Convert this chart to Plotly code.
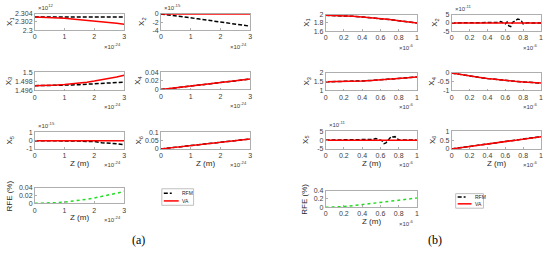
import plotly.graph_objects as go

W, H = 548, 254

# ---------------- data (panel a: z in units of 1e-24 m) ----------------
z_a = [0, 0.25, 0.5, 0.75, 1.0, 1.25, 1.5, 1.75, 2.0, 2.25, 2.5, 2.75, 3.0]
a_x1_rfm = [2.30323, 2.30323, 2.30323, 2.30323, 2.30323, 2.30323, 2.30323, 2.30323, 2.30323, 2.30323, 2.30323, 2.30323, 2.30323]
a_x1_va = [2.30323, 2.30319, 2.30311, 2.30301, 2.30289, 2.30275, 2.30260, 2.30244, 2.30227, 2.30208, 2.30188, 2.30168, 2.30146]
a_x2_rfm = [0, -0.2, -0.45, -0.7, -0.95, -1.2, -1.45, -1.7, -1.95, -2.2, -2.45, -2.7, -3.0]
a_x2_va = [0, 0, 0, 0, 0, 0, 0, 0, 0, 0, 0, 0, 0]
a_x3_rfm = [1.49705, 1.49705, 1.49707, 1.49710, 1.49715, 1.49721, 1.49728, 1.49736, 1.49745, 1.49754, 1.49763, 1.49772, 1.49782]
a_x3_va = [1.49705, 1.49707, 1.49711, 1.49719, 1.49730, 1.49744, 1.49761, 1.49782, 1.49805, 1.49832, 1.49861, 1.49894, 1.49930]
a_x4_rfm = [0, 0.002, 0.004, 0.006, 0.008, 0.010, 0.012, 0.014, 0.016, 0.018, 0.020, 0.022, 0.024]
a_x4_va = [0, 0.002, 0.004, 0.006, 0.008, 0.010, 0.012, 0.014, 0.016, 0.018, 0.020, 0.022, 0.024]
a_x5_rfm = [0, 0, 0, 0.02, 0, -0.03, -0.05, -0.12, -0.1, -0.25, -0.3, -0.38, -0.5]
a_x5_va = [0, 0, 0, 0, 0, 0, 0, 0, 0, 0, 0, 0, 0]
a_x6_rfm = [0, 0.005, 0.010, 0.015, 0.020, 0.025, 0.030, 0.035, 0.040, 0.045, 0.050, 0.055, 0.060]
a_x6_va = [0, 0.005, 0.010, 0.015, 0.020, 0.025, 0.030, 0.035, 0.040, 0.045, 0.050, 0.055, 0.060]
a_rfe = [0, 0.0002, 0.0009, 0.0019, 0.0034, 0.0054, 0.0078, 0.0105, 0.0138, 0.0174, 0.0215, 0.0260, 0.031]

# ---------------- data (panel b: z in units of 1e-6 m) ----------------
z_b = [0, 0.1, 0.2, 0.3, 0.4, 0.5, 0.6, 0.7, 0.8, 0.9, 1.0]
z_b_n = [0, 0.48, 0.52, 0.55, 0.57, 0.6, 0.62, 0.64, 0.66, 0.68, 0.7, 0.72, 0.74, 0.76, 0.78, 0.8, 0.82, 0.85, 0.9, 1.0]
b_x1_rfm = [1.985, 1.981, 1.973, 1.961, 1.946, 1.928, 1.906, 1.881, 1.855, 1.828, 1.80]
b_x1_va = [1.985, 1.981, 1.973, 1.961, 1.946, 1.928, 1.906, 1.881, 1.855, 1.828, 1.80]
b_x2_rfm = [0, 0, 0.3, 0.8, 0.2, -0.5, 0.6, -1.8, -2.2, 0.3, 0.9, 1.6, 2.4, 2.0, 1.2, -0.6, -0.2, 0.2, 0, 0]
b_x2_va = [0, 0, 0, 0, 0, 0, 0, 0, 0, 0, 0]
b_x3_rfm = [1.5, 1.5055, 1.516, 1.5315, 1.552, 1.5775, 1.608, 1.6435, 1.684, 1.7295, 1.78]
b_x3_va = [1.5, 1.5055, 1.516, 1.5315, 1.552, 1.5775, 1.608, 1.6435, 1.684, 1.7295, 1.78]
b_x4_rfm = [0, -0.09, -0.17, -0.245, -0.31, -0.37, -0.42, -0.465, -0.505, -0.54, -0.57]
b_x4_va = [0, -0.09, -0.17, -0.245, -0.31, -0.37, -0.42, -0.465, -0.505, -0.54, -0.57]
b_x5_rfm = [0, 0, 0.4, 0.9, 0.5, 0.3, -0.4, -2.0, -1.6, -0.3, 1.0, 2.2, 1.8, 2.0, 0.8, 0.4, -0.1, 0.1, 0, 0]
b_x5_va = [0, 0, 0, 0, 0, 0, 0, 0, 0, 0, 0]
b_x6_rfm = [0, 0.07, 0.14, 0.21, 0.28, 0.35, 0.42, 0.49, 0.56, 0.63, 0.70]
b_x6_va = [0, 0.07, 0.14, 0.21, 0.28, 0.35, 0.42, 0.49, 0.56, 0.63, 0.70]
b_rfe = [0, 0.003, 0.015, 0.038, 0.068, 0.094, 0.12, 0.145, 0.17, 0.198, 0.226]

xt_a = [0, 1, 2, 3]
xt_b = [0, 0.2, 0.4, 0.6, 0.8, 1]

# ---------------- styling ----------------
RED = "#ff0000"
BLACK = "#000000"
GREEN = "#22dd22"
FONT = "Liberation Sans"
TICKC = "#404040"
BOXC = "#9a9a9a"
DASH = "4px,2px"

subplots = [
    dict(px=(33, 123, 10, 27), z=z_a, zr=z_a, rfm=a_x1_rfm, va=a_x1_va, yr=[2.3, 2.304], yt=[2.3, 2.302, 2.304], yl="X<sub>1</sub>", ylx=8, ye="×10<sup>12</sup>", xt=xt_a, xr=[0, 3], xe="×10<sup>-24</sup>", zl=False),
    dict(px=(160, 250, 10, 27), z=z_a, zr=z_a, rfm=a_x2_rfm, va=a_x2_va, yr=[-4, 0.06], yt=[-4, -2, 0], yl="X<sub>2</sub>", ylx=141, ye="×10<sup>-15</sup>", xt=xt_a, xr=[0, 3], xe="×10<sup>-24</sup>", zl=False),
    dict(px=(33, 123, 70, 89), z=z_a, zr=z_a, rfm=a_x3_rfm, va=a_x3_va, yr=[1.496, 1.5], yt=[1.496, 1.498, 1.5], yl="X<sub>3</sub>", ylx=7, ye=None, xt=xt_a, xr=[0, 3], xe="×10<sup>-24</sup>", zl=False),
    dict(px=(160, 250, 70, 88), z=z_a, zr=z_a, rfm=a_x4_rfm, va=a_x4_va, yr=[0, 0.04], yt=[0, 0.02, 0.04], yl="X<sub>4</sub>", ylx=137, ye=None, xt=xt_a, xr=[0, 3], xe="×10<sup>-24</sup>", zl=False),
    dict(px=(33, 123, 132, 149), z=z_a, zr=z_a, rfm=a_x5_rfm, va=a_x5_va, yr=[-1, 1], yt=[-1, 0, 1], yl="X<sub>5</sub>", ylx=8, ye="×10<sup>-15</sup>", xt=xt_a, xr=[0, 3], xe="×10<sup>-24</sup>", zl=True),
    dict(px=(160, 250, 132, 149), z=z_a, zr=z_a, rfm=a_x6_rfm, va=a_x6_va, yr=[0, 0.1], yt=[0, 0.05, 0.1], yl="X<sub>6</sub>", ylx=138, ye=None, xt=xt_a, xr=[0, 3], xe="×10<sup>-24</sup>", zl=True),
    dict(px=(33, 123, 189, 205), z=z_a, zr=None, rfm=None, va=None, rfe=a_rfe, yr=[0, 0.04], yt=[0, 0.02, 0.04], yl="RFE (%)", ylx=8, ye=None, xt=xt_a, xr=[0, 3], xe="×10<sup>-24</sup>", zl=True),

    dict(px=(326, 418, 11, 28), z=z_b, zr=z_b, rfm=b_x1_rfm, va=b_x1_va, yr=[1.6, 2], yt=[1.6, 1.8, 2], yl="X<sub>1</sub>", ylx=307, ye=None, xt=xt_b, xr=[0, 1], xe="×10<sup>-6</sup>", zl=False),
    dict(px=(453, 543, 11, 28), z=z_b, zr=z_b_n, rfm=b_x2_rfm, va=b_x2_va, yr=[-5, 5], yt=[-5, 0, 5], yl="X<sub>2</sub>", ylx=436, ye="×10<sup>-11</sup>", xt=xt_b, xr=[0, 1], xe="×10<sup>-6</sup>", zl=False),
    dict(px=(326, 418, 71, 89), z=z_b, zr=z_b, rfm=b_x3_rfm, va=b_x3_va, yr=[1, 2], yt=[1, 1.5, 2], yl="X<sub>3</sub>", ylx=307, ye=None, xt=xt_b, xr=[0, 1], xe="×10<sup>-6</sup>", zl=False),
    dict(px=(453, 543, 71, 89), z=z_b, zr=z_b, rfm=b_x4_rfm, va=b_x4_va, yr=[-1, 0], yt=[-1, -0.5, 0], yl="X<sub>4</sub>", ylx=433, ye=None, xt=xt_b, xr=[0, 1], xe="×10<sup>-6</sup>", zl=False),
    dict(px=(326, 418, 131, 149), z=z_b, zr=z_b_n, rfm=b_x5_rfm, va=b_x5_va, yr=[-5, 5], yt=[-5, 0, 5], yl="X<sub>5</sub>", ylx=306, ye="×10<sup>-11</sup>", xt=xt_b, xr=[0, 1], xe="×10<sup>-6</sup>", zl=True),
    dict(px=(453, 543, 131, 149), z=z_b, zr=z_b, rfm=b_x6_rfm, va=b_x6_va, yr=[0, 1], yt=[0, 0.5, 1], yl="X<sub>6</sub>", ylx=434, ye=None, xt=xt_b, xr=[0, 1], xe="×10<sup>-6</sup>", zl=True),
    dict(px=(326, 418, 192, 209), z=z_b, zr=None, rfm=None, va=None, rfe=b_rfe, yr=[0, 0.4], yt=[0, 0.2, 0.4], yl="RFE (%)", ylx=305, ye=None, xt=xt_b, xr=[0, 1], xe="×10<sup>-6</sup>", zl=True),
]

fig = go.Figure()
annotations = []
shapes = []


def fx(p):
    return p / W


def fy(p):
    return 1 - p / H


def fmt(v):
    return "%g" % v


for i, sp in enumerate(subplots):
    n = i + 1
    xa = "x" if n == 1 else "x%d" % n
    ya = "y" if n == 1 else "y%d" % n
    x0, x1, y0, y1 = sp["px"]
    if sp.get("rfe") is not None:
        fig.add_trace(go.Scatter(x=sp["z"], y=sp["rfe"], mode="lines", xaxis=xa, yaxis=ya,
                                 line=dict(color=GREEN, width=1.5, dash="dot"), showlegend=False))
    else:
        fig.add_trace(go.Scatter(x=sp["zr"], y=sp["rfm"], mode="lines", xaxis=xa, yaxis=ya, name="RFM",
                                 line=dict(color=BLACK, width=1.5, dash=DASH), showlegend=False))
        fig.add_trace(go.Scatter(x=sp["z"], y=sp["va"], mode="lines", xaxis=xa, yaxis=ya, name="VA",
                                 line=dict(color=RED, width=1.5), showlegend=False))
    axcommon = dict(showline=True, mirror=True, linecolor=BOXC, linewidth=0.8, showgrid=False,
                    zeroline=False, ticks="inside", ticklen=2, tickcolor=BOXC, tickwidth=0.8,
                    tickfont=dict(family=FONT, size=7, color=TICKC))
    xkey = "xaxis" if n == 1 else "xaxis%d" % n
    ykey = "yaxis" if n == 1 else "yaxis%d" % n
    fig.update_layout(**{
        xkey: dict(domain=[fx(x0), fx(x1)], anchor=ya, range=sp["xr"], tickvals=sp["xt"],
                   ticktext=[fmt(v) for v in sp["xt"]], **axcommon),
        ykey: dict(domain=[fy(y1), fy(y0)], anchor=xa, range=sp["yr"], tickvals=sp["yt"],
                   ticktext=[fmt(v) for v in sp["yt"]], **axcommon),
    })
    annotations.append(dict(x=fx(sp["ylx"]), y=fy((y0 + y1) / 2), xref="paper", yref="paper",
                            text=sp["yl"], textangle=-90, showarrow=False,
                            font=dict(family=FONT, size=8, color="#262626"),
                            xanchor="center", yanchor="middle"))
    if sp["ye"]:
        annotations.append(dict(x=fx(x0 + 1), y=fy(y0 - 1), xref="paper", yref="paper",
                                text=sp["ye"], showarrow=False,
                                font=dict(family=FONT, size=6, color=TICKC),
                                xanchor="left", yanchor="bottom"))
    annotations.append(dict(x=fx(x1 - 1), y=fy(y1 + 16), xref="paper", yref="paper",
                            text=sp["xe"], showarrow=False,
                            font=dict(family=FONT, size=6, color=TICKC),
                            xanchor="right", yanchor="middle"))
    if sp["zl"]:
        annotations.append(dict(x=fx((x0 + x1) / 2), y=fy(y1 + 15), xref="paper", yref="paper",
                                text="Z (m)", showarrow=False,
                                font=dict(family=FONT, size=8, color="#262626"),
                                xanchor="center", yanchor="middle"))

legends = [
    dict(box=(161, 193, 190, 207), l1=(163, 171, 194.5), l2=(163, 178, 202.5), tx=179),
    dict(box=(457, 485, 195, 210), l1=(459, 467, 198.5), l2=(459, 473, 205.5), tx=474),
]
for lg in legends:
    bx0, bx1, by0, by1 = lg["box"]
    shapes.append(dict(type="rect", xref="paper", yref="paper", x0=fx(bx0), x1=fx(bx1),
                       y0=fy(by1), y1=fy(by0), line=dict(color="#b0b0b0", width=0.8),
                       fillcolor="white"))
    a, b, yy = lg["l1"]
    shapes.append(dict(type="line", xref="paper", yref="paper", x0=fx(a), x1=fx(b), y0=fy(yy), y1=fy(yy),
                       line=dict(color=BLACK, width=1.5, dash=DASH)))
    a, b, yy2 = lg["l2"]
    shapes.append(dict(type="line", xref="paper", yref="paper", x0=fx(a), x1=fx(b), y0=fy(yy2), y1=fy(yy2),
                       line=dict(color=RED, width=1.5)))
    annotations.append(dict(x=fx(lg["tx"]), y=fy(yy), xref="paper", yref="paper", text="RFM",
                            showarrow=False, font=dict(family=FONT, size=5, color="#262626"),
                            xanchor="left", yanchor="middle"))
    annotations.append(dict(x=fx(lg["tx"]), y=fy(yy2), xref="paper", yref="paper", text="VA",
                            showarrow=False, font=dict(family=FONT, size=5, color="#262626"),
                            xanchor="left", yanchor="middle"))

annotations.append(dict(x=fx(138), y=fy(243), xref="paper", yref="paper", text="(a)", showarrow=False,
                        font=dict(family="Liberation Serif", size=12, color="black"),
                        xanchor="center", yanchor="middle"))
annotations.append(dict(x=fx(436), y=fy(243), xref="paper", yref="paper", text="(b)", showarrow=False,
                        font=dict(family="Liberation Serif", size=12, color="black"),
                        xanchor="center", yanchor="middle"))

fig.update_layout(width=W, height=H, margin=dict(l=0, r=0, t=0, b=0),
                  paper_bgcolor="white", plot_bgcolor="white", showlegend=False,
                  hovermode=False, annotations=annotations, shapes=shapes)

fig.write_html("out.html", config={"displayModeBar": False, "staticPlot": True},
               post_script="document.body.style.margin='0';")
